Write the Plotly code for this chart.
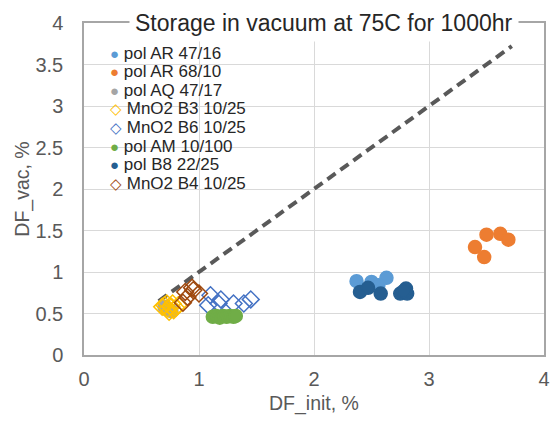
import plotly.graph_objects as go

# ---- data ----
ar4716_x = [2.37, 2.50, 2.63, 2.56]
ar4716_y = [0.89, 0.88, 0.93, 0.84]

ar6810_x = [3.50, 3.62, 3.69, 3.40, 3.48]
ar6810_y = [1.45, 1.46, 1.39, 1.30, 1.18]

aq4717_x = [0.72, 0.76, 0.70]
aq4717_y = [0.55, 0.53, 0.58]

b3_x = [0.70, 0.73, 0.76, 0.78, 0.80, 0.74, 0.82, 0.72, 0.68, 0.77]
b3_y = [0.60, 0.56, 0.58, 0.54, 0.57, 0.52, 0.60, 0.62, 0.58, 0.62]

b6_x = [1.10, 1.19, 1.08, 1.17, 1.30, 1.39, 1.45]
b6_y = [0.72, 0.67, 0.60, 0.62, 0.62, 0.62, 0.67]

am_x = [1.12, 1.15, 1.18, 1.21, 1.24, 1.27, 1.30, 1.32]
am_y = [0.46, 0.47, 0.45, 0.47, 0.46, 0.47, 0.46, 0.47]

b8_x = [2.40, 2.47, 2.58, 2.75, 2.80, 2.81, 2.78]
b8_y = [0.76, 0.81, 0.74, 0.74, 0.80, 0.74, 0.77]

b4_x = [0.94, 0.88, 1.00, 0.86, 0.95, 0.90]
b4_y = [0.81, 0.76, 0.74, 0.63, 0.78, 0.70]

diag_x = [0.65, 3.72]
diag_y = [0.65, 3.72]

series = [
    ("pol AR 47/16", ar4716_x, ar4716_y, "circle", "#5B9BD5"),
    ("pol AR 68/10", ar6810_x, ar6810_y, "circle", "#ED7D31"),
    ("pol AQ 47/17", aq4717_x, aq4717_y, "circle", "#A5A5A5"),
    ("MnO2 B3 10/25", b3_x, b3_y, "diamond-open", "#FFC000"),
    ("MnO2 B6 10/25", b6_x, b6_y, "diamond-open", "#4472C4"),
    ("pol AM 10/100", am_x, am_y, "circle", "#70AD47"),
    ("pol B8 22/25", b8_x, b8_y, "circle", "#255E91"),
    ("MnO2 B4 10/25", b4_x, b4_y, "diamond-open", "#9E480E"),
]

FONT = "Liberation Sans, Arial, sans-serif"

fig = go.Figure()
fig.add_trace(go.Scatter(x=diag_x, y=diag_y, mode="lines", showlegend=False,
                         line=dict(color="#595959", width=4, dash="10px,6px")))
for name, xs, ys, sym, col in series:
    fig.add_trace(go.Scatter(
        x=xs, y=ys, mode="markers", name=name, showlegend=False,
        marker=dict(symbol=sym, size=13, color=col,
                    line=dict(color=col, width=1.5))))

# compact legend (the reference uses very tight line spacing)
plot_h = 426 - 23 - 71
leg_top_px = 53 - 23     # centre of first entry, px below top of plot area
leg_step_px = 18.6
annotations = []
for i, (name, xs, ys, sym, col) in enumerate(series):
    glyph = "●" if sym == "circle" else "◇"
    yp = 1 - (leg_top_px + i * leg_step_px) / plot_h
    annotations.append(dict(
        text=f'<span style="color:{col};font-size:15px">{glyph}</span> {name}',
        xref="paper", yref="paper", x=0.052, y=yp, xanchor="left", yanchor="middle",
        showarrow=False, font=dict(size=17, color="#262626", family=FONT)))

annotations.append(dict(text="Storage in vacuum at 75C for 1000hr", xref="paper", yref="paper",
                        x=0.521, y=1.0, xanchor="center", yanchor="middle", showarrow=False,
                        bgcolor="white", borderpad=5,
                        font=dict(size=23, color="#262626", family=FONT)))

fig.update_layout(
    width=553, height=426,
    margin=dict(l=84, r=3, t=23, b=71),
    paper_bgcolor="white", plot_bgcolor="white",
    font=dict(family=FONT, color="#595959"),
    showlegend=False,
    xaxis=dict(range=[0, 4], dtick=1, showgrid=True, gridcolor="#D9D9D9",
               zeroline=False, showline=True, linecolor="#A6A6A6", linewidth=1.5,
               mirror=True, ticks="", tickfont=dict(size=20), ticklabelstandoff=5,
               ticklabeloverflow="allow",
               title=dict(text="DF_init, %", font=dict(size=19.5), standoff=8)),
    yaxis=dict(range=[0, 4], dtick=0.5, showgrid=True, gridcolor="#D9D9D9",
               zeroline=False, showline=True, linecolor="#A6A6A6", linewidth=1.5,
               mirror=True, ticks="", tickfont=dict(size=20), ticklabelstandoff=15,
               title=dict(text="DF_vac, %", font=dict(size=19.5), standoff=1)),
    annotations=annotations,
)

fig.write_html("out.html")
